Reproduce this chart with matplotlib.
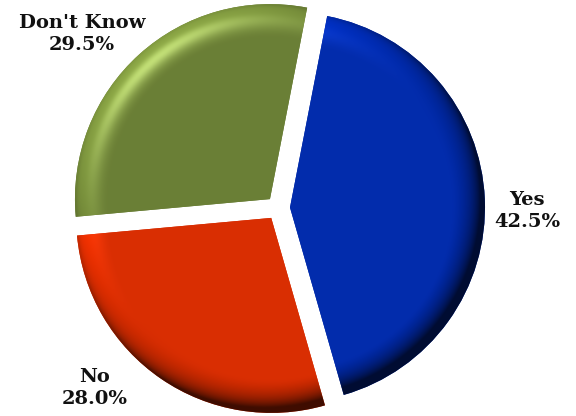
import numpy as np
import matplotlib
matplotlib.use("Agg")
import matplotlib.pyplot as plt
from matplotlib.colors import to_rgb

categories = ["Yes", "No", "Don't Know"]
values = [42.5, 28.0, 29.5]
pct_labels = ["42.5%", "28.0%", "29.5%"]
colors = ["#0029A8", "#D42B00", "#677B33"]

fig = plt.figure(figsize=(5.76, 4.16), dpi=100)
ax = fig.add_axes([0, 0, 1, 1])

cx, cy, R = 278, 208, 195
explode = [12, 12, 12]  # data units (pixels)
wedges, _ = ax.pie(values, colors=colors, startangle=79, counterclock=False,
                   radius=R, center=(cx, cy), explode=explode,
                   wedgeprops=dict(linewidth=0))
ax.set_xlim(0, 576)
ax.set_ylim(0, 416)
ax.set_aspect('equal')
ax.axis('off')

# bevel shading
L = np.array([-0.55, 0.65, 0.75]); L = L / np.linalg.norm(L)
H = L + np.array([0, 0, 1.0]); H = H / np.linalg.norm(H)
for w, col in zip(wedges, colors):
    wcx, wcy = w.center
    n = 420
    xs = np.linspace(wcx - R, wcx + R, n)
    ys = np.linspace(wcy - R, wcy + R, n)
    X, Y = np.meshgrid(xs, ys)
    dx, dy = X - wcx, Y - wcy
    rho = np.hypot(dx, dy) / R
    phi = np.arctan2(dy, dx)
    s = np.clip((rho - 0.83) / 0.17, 0, 1) ** 1.6
    s = np.minimum(s, 0.95)
    nx, ny, nz = s * np.cos(phi), s * np.sin(phi), np.sqrt(1 - s ** 2)
    diff = np.clip(nx * L[0] + ny * L[1] + nz * L[2], 0, None)
    f = 0.3 + 0.7 * diff / L[2]
    spec = np.clip(nx * H[0] + ny * H[1] + nz * H[2], 0, None) ** 30 * 0.35
    base = np.array(to_rgb(col))
    img = base[None, None, :] * f[..., None] + spec[..., None] * (0.5 + 0.5 * base[None, None, :])
    img = np.clip(img, 0, 1)
    im = ax.imshow(img, extent=(wcx - R, wcx + R, wcy - R, wcy + R), origin='lower',
                   interpolation='bilinear', zorder=2)
    im.set_clip_path(w)

ax.set_xlim(0, 576)
ax.set_ylim(0, 416)

label_pos = [(527, 205), (95, 28), (82, 382)]
for cat, pct, (lx, ly) in zip(categories, pct_labels, label_pos):
    ax.text(lx, ly, f"{cat}\n{pct}", ha='center', va='center', fontsize=14,
            fontweight='bold', family='DejaVu Serif', linespacing=1.3,
            color='#111111', zorder=5)

fig.savefig("out.png", dpi=100)
